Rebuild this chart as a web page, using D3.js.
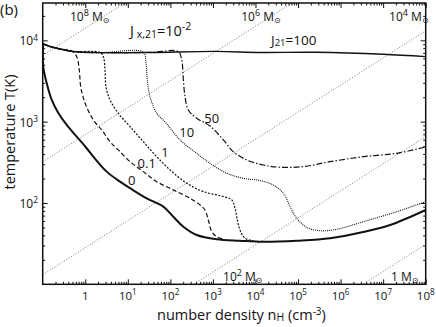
<!DOCTYPE html>
<html><head><meta charset="utf-8">
<script src="https://cdn.jsdelivr.net/npm/d3@7"></script>
<style>
body{margin:0;background:#fff}
svg{display:block}
text{font-family:"Open Sans","Noto Sans",sans-serif;fill:#111}
</style>
</head><body>
<svg id="chart" width="436" height="327"></svg>
<script>
// ---------- data (number density n_H [cm^-3], temperature T [K]) ----------
const J0_n   = [0.102, 0.103, 0.124, 0.163, 0.233, 0.366, 0.63, 1.08, 1.55, 3.19, 6.56, 11.3, 27.8, 68.3, 117, 202, 416, 1230, 4340, 15000, 94700, 565000, 3.37e6, 1.46e7, 1e8];
const J0_T   = [9000, 4750, 2990, 1850, 1280, 911, 654, 471, 371, 243, 183, 152, 114, 90.1, 67.8, 51.1, 40.4, 35.8, 34.4, 33.4, 34.4, 36.8, 44, 53.6, 82];

const J100_n = [0.102, 0.149, 0.255, 0.515, 2.22, 33.3, 1180, 12800, 265000, 9.95e6, 1e8];
const J100_T = [9040, 8410, 7840, 7300, 7060, 7100, 7310, 7100, 7140, 6750, 6310];

const J01_n  = [0.102, 0.149, 0.255, 0.481, 0.630, 0.724, 0.782, 0.987, 1.55, 2.44, 3.82, 5.98, 11.3, 23.1, 47.7, 117, 290, 498, 652, 780, 938, 1230, 1760];
const J01_T  = [9040, 8410, 7840, 7400, 6300, 4320, 2690, 1700, 1050, 791, 568, 449, 322, 243, 183, 145, 114, 94.5, 82, 61.8, 44.4, 38.5, 35.8];

const J1_n   = [0.102, 0.149, 0.255, 0.515, 2.22, 2.66, 2.91, 3.07, 3.82, 5.98, 11.3, 23.1, 47.7, 98.2, 242, 595, 1760, 2770, 3310, 3740, 4330, 5680, 8900];
const J1_T   = [9040, 8410, 7840, 7300, 7100, 6300, 4320, 2690, 1850, 1270, 868, 568, 371, 255, 175, 138, 120, 109, 86, 61.8, 46.5, 36.8, 34.4];

const J10_n  = [0.102, 0.149, 0.255, 0.515, 2.22, 23.1, 26.8, 28.7, 33.2, 47.8, 79, 169, 415, 853, 2110, 5180, 12800, 26300, 45200, 64900, 93200, 160000, 329000, 812000, 3.43e6, 2.09e7, 1e8];
const J10_T  = [9040, 8410, 7840, 7300, 7060, 7150, 5270, 3260, 2030, 1270, 964, 596, 408, 308, 232, 201, 189, 166, 132, 90, 64.9, 50.2, 45.6, 47.5, 58.9, 78.2, 104];

const J50_n  = [0.102, 0.149, 0.255, 0.515, 2.22, 33.3, 154, 185, 202, 221, 264, 416, 855, 1760, 3010, 6220, 15300, 37800, 133000, 565000, 3.43e6, 2.09e7, 1e8];
const J50_T  = [9040, 8410, 7840, 7300, 7060, 7100, 7260, 5740, 3260, 2030, 1390, 1100, 885, 596, 428, 338, 293, 275, 280, 322, 371, 408, 489];

// Jeans-mass reference lines: endpoints at n = 0.1 and n = 1e8
const jeansMassExp = ["8", "6", "4", "2", ""];
const jeansN0 = [0.1, 0.1, 0.1, 0.1, 0.1];
const jeansT0 = [6560, 321, 13.1, 0.656, 0.031];
const jeansN1 = [1e8, 1e8, 1e8, 1e8, 1e8];
const jeansT1 = [6.56e6, 3.21e5, 13100, 656, 31];
// Jeans label anchors (start of text, baseline)
const jeansLabN = [0.438, 4630, 1.38e7, 1730, 1.53e7];
const jeansLabT = [17300, 17300, 17300, 11.1, 11.1];

// curve labels
const curveLabels = ["0", "0.1", "1", "10", "50"];
const curveLabN = [12.4, 27.8, 74.8, 242, 937];
const curveLabT = [192, 308, 428, 754, 1100];

// ticks
const xTickValues = [1, 10, 100, 1e3, 1e4, 1e5, 1e6, 1e7, 1e8];
const xTickLabels = ["1", "10^1", "10^2", "10^3", "10^4", "10^5", "10^6", "10^7", "10^8"];
const yTickValues = [100, 1000, 10000];
const yTickLabels = ["10^2", "10^3", "10^4"];

// ---------- drawing ----------
const svg = d3.select("#chart");
const L = 42.7, R = 425.7, T = 3, B = 284.3;
const x = d3.scaleLog().domain([0.1, 1e8]).range([L, R]);
const y = d3.scaleLog().domain([10, 2.88e4]).range([B, T]);

svg.append("defs").append("clipPath").attr("id", "clip")
  .append("rect").attr("x", L).attr("y", T).attr("width", R - L).attr("height", B - T);

const plot = svg.append("g").attr("clip-path", "url(#clip)");

// Jeans lines
jeansN0.forEach((n0, i) => {
  plot.append("line")
    .attr("x1", x(n0)).attr("y1", y(jeansT0[i]))
    .attr("x2", x(jeansN1[i])).attr("y2", y(jeansT1[i]))
    .attr("stroke", "#555").attr("stroke-width", 0.8)
    .attr("stroke-dasharray", "1,1.8");
});

const line = d3.line().x(d => x(d[0])).y(d => y(d[1])).curve(d3.curveCatmullRom.alpha(0.5));
function pts(ns, ts) { return ns.map((n, i) => [n, ts[i]]); }

const series = [
  {d: pts(J01_n, J01_T), w: 1.2, dash: "4.5,2.5"},
  {d: pts(J1_n, J1_T),   w: 1.2, dash: "2,1.5"},
  {d: pts(J10_n, J10_T), w: 1.1, dash: "1,1"},
  {d: pts(J50_n, J50_T), w: 1.2, dash: "6,2,1.5,2"},
  {d: pts(J100_n, J100_T), w: 1.4, dash: null},
  {d: pts(J0_n, J0_T),   w: 2.0, dash: null}
];
series.forEach(s => {
  plot.append("path").attr("d", line(s.d)).attr("fill", "none")
    .attr("stroke", "#111").attr("stroke-width", s.w)
    .attr("stroke-dasharray", s.dash);
});

// axes ticks (inward)
const minorX = [], minorY = [];
for (let e = -1; e < 8; e++) for (let k = 2; k <= 9; k++) minorX.push(k * Math.pow(10, e));
for (let e = 1; e < 5; e++) for (let k = 2; k <= 9; k++) { const v = k * Math.pow(10, e); if (v <= 2.88e4) minorY.push(v); }

function axisG(axis, tx, ty) {
  const g = svg.append("g").attr("transform", `translate(${tx},${ty})`).call(axis);
  g.select(".domain").remove();
  g.selectAll("line").attr("stroke", "#111").attr("stroke-width", 1);
  g.selectAll("text").remove();
  return g;
}
axisG(d3.axisBottom(x).tickValues(xTickValues).tickSize(-5), 0, B);
axisG(d3.axisBottom(x).tickValues(minorX).tickSize(-2.5), 0, B);
axisG(d3.axisTop(x).tickValues(xTickValues).tickSize(-5), 0, T);
axisG(d3.axisTop(x).tickValues(minorX).tickSize(-2.5), 0, T);
axisG(d3.axisLeft(y).tickValues(yTickValues).tickSize(-5), L, 0);
axisG(d3.axisLeft(y).tickValues(minorY).tickSize(-2.5), L, 0);
axisG(d3.axisRight(y).tickValues(yTickValues).tickSize(-5), R, 0);
axisG(d3.axisRight(y).tickValues(minorY).tickSize(-2.5), R, 0);

// frame
svg.append("rect").attr("x", L).attr("y", T).attr("width", R - L).attr("height", B - T)
  .attr("fill", "none").attr("stroke", "#111").attr("stroke-width", 1.5);

function powText(g, label, fs) {
  const p = label.split("^");
  g.append("tspan").text(p[0]);
  if (p.length > 1) {
    g.append("tspan").attr("font-size", fs * 0.7).attr("dy", -fs * 0.4).text(p[1]);
  }
}
xTickValues.forEach((v, i) => {
  const t = svg.append("text").attr("x", x(v)).attr("y", 299.5)
    .attr("text-anchor", "middle").attr("font-size", 11.5);
  powText(t, xTickLabels[i], 11.5);
});
yTickValues.forEach((v, i) => {
  const t = svg.append("text").attr("x", 38).attr("y", y(v) + 5)
    .attr("text-anchor", "end").attr("font-size", 12);
  powText(t, yTickLabels[i], 12);
});

// axis titles
const xt = svg.append("text").attr("x", 157).attr("y", 320).attr("font-size", 14.5);
xt.append("tspan").text("number density  n");
xt.append("tspan").attr("font-size", 10.5).attr("dy", 1).text("H");
xt.append("tspan").attr("dy", -1).text(" (cm");
xt.append("tspan").attr("font-size", 10).attr("dy", -5).text("-3");
xt.append("tspan").attr("dy", 5).text(")");

svg.append("text").attr("transform", "translate(15,132) rotate(-90)")
  .attr("text-anchor", "middle").attr("font-size", 14.5).text("temperature  T(K)");

svg.append("text").attr("x", 0).attr("y", 15).attr("font-size", 15).text("(b)");

// Jeans labels
jeansMassExp.forEach((e, i) => {
  const t = svg.append("text").attr("x", x(jeansLabN[i])).attr("y", y(jeansLabT[i])).attr("font-size", 12);
  if (e) {
    t.append("tspan").text("10");
    t.append("tspan").attr("font-size", 9).attr("dy", -5).text(e);
    t.append("tspan").attr("dy", 5).text(" M");
  } else {
    t.append("tspan").text("1 M");
  }
  t.append("tspan").attr("font-size", 8).attr("dy", 2).attr("font-family", "DejaVu Sans").text("\u2299");
});

// J labels
const jx = svg.append("text").attr("x", x(11.3)).attr("y", y(11300)).attr("font-size", 14.5);
jx.append("tspan").text("J");
jx.append("tspan").attr("font-size", 10.5).attr("dy", 2).text(" x,21");
jx.append("tspan").attr("dy", -2).text("=10");
jx.append("tspan").attr("font-size", 10.5).attr("dy", -6).text("-2");

const j100 = svg.append("text").attr("x", x(23200)).attr("y", y(8770)).attr("font-size", 13.5);
j100.append("tspan").text("J");
j100.append("tspan").attr("font-size", 9.5).attr("dy", 1).text("21");
j100.append("tspan").attr("dy", -1).text("=100");

// curve labels
curveLabels.forEach((s, i) => {
  svg.append("text").attr("x", x(curveLabN[i])).attr("y", y(curveLabT[i]))
    .attr("text-anchor", "middle").attr("dominant-baseline", "central")
    .attr("font-size", 13).text(s);
});
</script>
</body></html>
